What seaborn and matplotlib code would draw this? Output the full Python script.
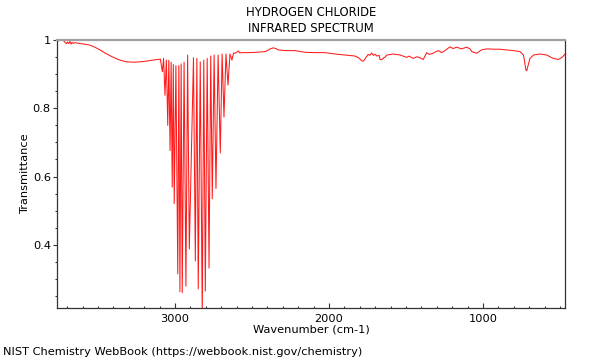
import matplotlib
matplotlib.use("Agg")
import matplotlib.pyplot as plt
from matplotlib.ticker import MultipleLocator, FixedLocator, FuncFormatter
import seaborn as sns
import pandas as pd

# ---- data ----
# broad background, high wavenumber side
bg_high_wn = [3768, 3755, 3740, 3725, 3712, 3705, 3698, 3690, 3682, 3675, 3668, 3660,
              3650, 3635, 3617, 3590, 3552, 3520, 3487, 3455, 3422, 3390, 3357, 3314,
              3270, 3227, 3190, 3162, 3130, 3108, 3095]
bg_high_t = [0.995, 0.998, 1.0, 0.999, 0.992, 0.989, 0.994, 0.990, 0.996, 0.988, 0.993, 0.990,
             0.992, 0.991, 0.990, 0.988, 0.985, 0.979, 0.971, 0.962, 0.954, 0.947, 0.941, 0.936,
             0.935, 0.936, 0.938, 0.940, 0.942, 0.943, 0.944]

# rotational-vibrational band: line centres, line minima, and the crests after each line
line_wn = [3082, 3065, 3047, 3032, 3018, 3005, 2982, 2968, 2953, 2929, 2907,
           2868, 2849, 2823, 2803, 2779, 2758, 2734, 2706, 2682, 2656, 2630]
line_min = [0.907, 0.838, 0.750, 0.676, 0.569, 0.521, 0.315, 0.263, 0.260, 0.279, 0.388,
            0.353, 0.271, 0.190, 0.265, 0.332, 0.535, 0.565, 0.669, 0.774, 0.868, 0.941]
crest_wn = [3074, 3056, 3040, 3025, 3011, 2994, 2975, 2960, 2941, 2918, 2880,
            2858, 2836, 2813, 2791, 2768, 2746, 2720, 2694, 2669, 2643, 2620]
crest_t = [0.946, 0.941, 0.941, 0.935, 0.928, 0.925, 0.925, 0.930, 0.935, 0.956, 0.948,
           0.946, 0.936, 0.941, 0.946, 0.953, 0.956, 0.956, 0.959, 0.959, 0.959, 0.962]

# background, low wavenumber side
bg_low_wn = [2610, 2600, 2589, 2580, 2567, 2520, 2470, 2416, 2395, 2383, 2362, 2345, 2329,
             2286, 2221, 2156, 2090, 2026, 1961, 1896, 1831, 1805, 1788, 1777, 1765, 1755,
             1745, 1735, 1723, 1712, 1700, 1690, 1675, 1669, 1658, 1645, 1636, 1625, 1583,
             1539, 1515, 1495, 1480, 1470, 1453, 1430, 1410, 1388, 1366, 1350, 1330, 1310,
             1290, 1270, 1250, 1236, 1214, 1195, 1171, 1140, 1106, 1085, 1073, 1041, 1020,
             1009, 977, 930, 890, 850, 803, 760, 738, 730, 722, 716, 708, 695, 673, 630,
             587, 544, 512, 490, 479, 468]
bg_low_t = [0.961, 0.964, 0.968, 0.962, 0.963, 0.963, 0.964, 0.966, 0.970, 0.974, 0.977, 0.975, 0.971,
            0.969, 0.969, 0.964, 0.963, 0.963, 0.959, 0.956, 0.953, 0.947, 0.939, 0.938, 0.945, 0.952,
            0.958, 0.955, 0.962, 0.955, 0.958, 0.953, 0.955, 0.943, 0.942, 0.948, 0.950, 0.956, 0.959,
            0.956, 0.952, 0.949, 0.953, 0.950, 0.946, 0.951, 0.948, 0.943, 0.963, 0.958, 0.960, 0.965,
            0.969, 0.963, 0.968, 0.973, 0.980, 0.975, 0.979, 0.974, 0.979, 0.974, 0.966, 0.961, 0.968,
            0.971, 0.974, 0.973, 0.973, 0.971, 0.969, 0.966, 0.956, 0.936, 0.912, 0.910, 0.925, 0.946,
            0.956, 0.959, 0.956, 0.946, 0.943, 0.948, 0.953, 0.959]

x_major = [3000, 2000, 1000]
y_major = [0.4, 0.6, 0.8, 1.0]
title_lines = ["HYDROGEN CHLORIDE", "INFRARED SPECTRUM"]
x_label = "Wavenumber (cm-1)"
y_label = "Transmittance"
footer = "NIST Chemistry WebBook (https://webbook.nist.gov/chemistry)"

# assemble the polyline vertices in order
wn = list(bg_high_wn)
tr = list(bg_high_t)
for w, m, cw, ct in zip(line_wn, line_min, crest_wn, crest_t):
    wn += [w, cw]
    tr += [m, ct]
wn += bg_low_wn
tr += bg_low_t
df = pd.DataFrame({"wn": wn, "T": tr, "i": range(len(wn))})

# ---- figure ----
sns.set_theme(style="white")
plt.rcParams["font.family"] = ["DejaVu Sans"]
plt.rcParams["text.color"] = "black"
plt.rcParams["axes.labelcolor"] = "black"
plt.rcParams["xtick.color"] = "black"
plt.rcParams["ytick.color"] = "black"
fig = plt.figure(figsize=(6, 3.6), dpi=100)
ax = fig.add_axes([57 / 600, 1 - 308 / 360, (565 - 57) / 600, (308 - 40) / 360])

sns.lineplot(data=df, x="wn", y="T", sort=False, estimator=None, ax=ax,
             color="#ff1a1a", linewidth=0.75)

ax.set_xlim(3766, 468)
ax.set_ylim(0.215, 1.0)

ax.xaxis.set_major_locator(FixedLocator(x_major))
ax.xaxis.set_minor_locator(MultipleLocator(100))
ax.yaxis.set_major_locator(FixedLocator(y_major))
ax.yaxis.set_minor_locator(MultipleLocator(0.05))
ax.yaxis.set_major_formatter(FuncFormatter(lambda v, p: "1" if abs(v - 1) < 1e-9 else f"{v:.1f}"))

ax.tick_params(axis="x", which="major", direction="in", length=3.4, width=0.8,
               color="#333333", labelcolor="black", labelsize=8.2, pad=4, bottom=True)
ax.tick_params(axis="x", which="minor", direction="in", length=1.7, width=0.8,
               color="#333333", bottom=True)
ax.tick_params(axis="y", which="major", direction="out", length=3.0, width=0.8,
               color="#333333", labelcolor="black", labelsize=8.2, pad=1.5, left=True)
ax.tick_params(axis="y", which="minor", direction="out", length=1.7, width=0.8,
               color="#333333", left=True)

for side in ["left", "bottom", "right"]:
    ax.spines[side].set_color("#333333")
    ax.spines[side].set_linewidth(0.9)
ax.spines["top"].set_color("#a0a0a0")
ax.spines["top"].set_linewidth(1.6)

ax.set_xlabel(x_label, fontsize=8.2, labelpad=1, color="black")
ax.set_ylabel(y_label, fontsize=8.2, labelpad=2, color="black")
ax.grid(False)

fig.text(311 / 600, 1 - 13 / 360, title_lines[0], ha="center", va="center", fontsize=8.4, color="black")
fig.text(311 / 600, 1 - 29 / 360, title_lines[1], ha="center", va="center", fontsize=8.4, color="black")
fig.text(3 / 600, 1 - 352 / 360, footer, ha="left", va="center", fontsize=8.2, color="black")

fig.savefig("out.png", dpi=100)
